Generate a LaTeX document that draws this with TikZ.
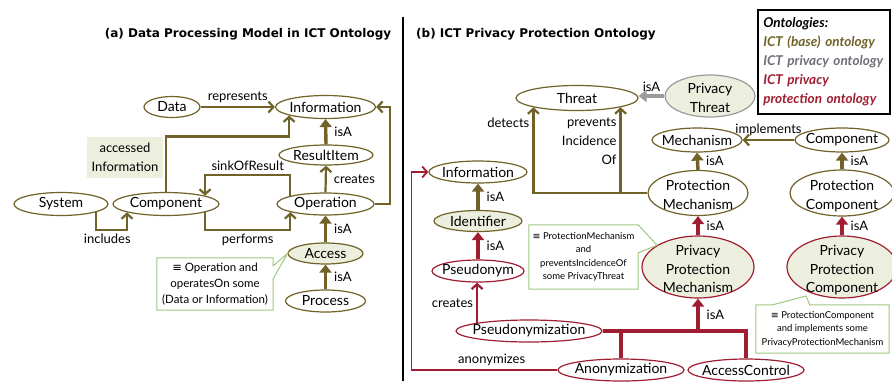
\documentclass[tikz,border=0pt]{standalone}
\usepackage{fontspec}
\setmainfont{Lato}
\newfontfamily\dvsfont{DejaVu Sans}
\usetikzlibrary{shapes.geometric,arrows.meta,calc}
\definecolor{oliv}{RGB}{112,98,40}
\definecolor{ored}{RGB}{160,30,50}
\definecolor{ogray}{RGB}{155,155,155}
\definecolor{lfill}{RGB}{236,239,222}
\definecolor{cgreen}{RGB}{160,200,130}
\definecolor{lgtext}{RGB}{110,110,120}
\newcommand\mynodefont{\fontsize{14}{18.5}\selectfont}
\newcommand\mylabfont{\fontsize{13}{19}\selectfont}
\newcommand\mycallfont{\fontsize{11.5}{16}\selectfont}
\newcommand\mysmallfont{\fontsize{9.5}{13.5}\selectfont}
\newcommand\mylegfont{\fontsize{13.5}{18.8}\selectfont\bfseries\itshape}
\newcommand\mytitlefont{\dvsfont\fontsize{12}{14}\selectfont\bfseries}
\newcommand\ztA[1]{\makebox[0pt]{#1}}
\newcommand\ztB[2]{\makebox[0pt]{\raisebox{-7pt}[0pt][0pt]{\begin{tabular}{@{}c@{}}#1\\#2\end{tabular}}}}
\newcommand\ztC[3]{\makebox[0pt]{\raisebox{-7pt}[0pt][0pt]{\begin{tabular}{@{}c@{}}#1\\#2\\#3\end{tabular}}}}
\newcommand\eqv{{\dvsfont ≡}}
\tikzset{
  ell/.style={ellipse, draw=oliv, line width=1.2pt, fill=white, inner sep=0pt, font=\mynodefont},
  rel/.style={draw=oliv, line width=2.2pt, line join=miter, -{Straight Barb[length=5pt,width=11pt]}},
  isa/.style={draw=oliv, line width=3.4pt, -{Triangle[length=8pt,width=12pt]}},
  redline/.style={draw=ored, line width=3.4pt, line join=miter},
  lab/.style={font=\mylabfont, text=black, inner sep=3pt},
  isalab/.style={lab, right=4pt},
  call/.style={draw=cgreen, line width=1pt, line join=miter},
  calltext/.style={align=center, inner sep=0pt, text=black}
}
\begin{document}
\begin{tikzpicture}[x=1pt,y=-1pt]
\useasboundingbox (0,0) rectangle (892,381);
\fill[white] (0,0) rectangle (892,381);

% titles and divider
\node[font=\mytitlefont] (ta) at (248,34) {(a) Data Processing Model in ICT Ontology};
\node[font=\mytitlefont, anchor=west, inner sep=0pt] (tb) at (416,34) {(b) ICT Privacy Protection Ontology};
\draw[line width=2.4pt] (403,17) -- (403,381);

% ---------- panel (a) ----------
\node[ell, minimum width=56pt, minimum height=21pt] (Data) at (172,107) {\ztA{Data}};
\node[ell, minimum width=100pt, minimum height=23pt] (InfoA) at (325.5,107) {\ztA{Information}};
\node[ell, minimum width=94pt, minimum height=20pt] (RI) at (326,155) {\ztA{ResultItem}};
\node[ell, minimum width=97pt, minimum height=22pt] (Op) at (325.5,204) {\ztA{Operation}};
\node[ell, minimum width=106pt, minimum height=23pt] (Comp) at (166,204) {\ztA{Component}};
\node[ell, minimum width=94pt, minimum height=23pt] (Sys) at (61,204) {\ztA{System}};
\node[ell, fill=lfill, minimum width=75pt, minimum height=21pt] (Acc) at (325.5,253.5) {\ztA{Access}};
\node[ell, minimum width=80pt, minimum height=22pt] (Proc) at (325.5,301) {\ztA{Process}};
\node[fill=lfill, minimum width=76pt, minimum height=41pt, align=center, font=\mylabfont, inner sep=0pt] (AI) at (125,157.5) {accessed\\Information};

\draw[rel] (Data.east) -- node[lab, above]{represents} (InfoA.west);
\draw[isa] (RI.north) -- node[isalab]{isA} (InfoA.south);
\draw[rel] (Op.north) -- node[isalab]{creates} (RI.south);
\draw[isa] (Acc.north) -- node[isalab]{isA} (Op.south);
\draw[isa] (Proc.north) -- node[isalab]{isA} (Acc.south);
\draw[rel] (Comp.north) -- ++(0,-55.5) -| (InfoA.193);
\draw[rel] (Op.167) -- ++(0,-21) -| node[lab, pos=0.25, above]{sinkOfResult} (Comp.12);
\draw[rel] (Sys.347) -- ++(0,18) -| node[lab, pos=0.18, below]{includes} (Comp.192);
\draw[rel] (Comp.348) -- ++(0,18) -| node[lab, pos=0.25, below]{performs} (Op.193);
\draw[rel] (Op.east) -- ++(15,0) |- (InfoA.east);

\node[calltext, font=\mycallfont, minimum width=116pt, minimum height=52pt] (cA) at (215,284) {\eqv{} Operation and\\operatesOn some\\(Data or Information)};
\draw[call] (cA.north west) -- (cA.north east) -- ($(cA.north east)+(0,8)$) -- (Acc.west) -- ($(cA.north east)+(0,21)$) -- (cA.south east) -- (cA.south west) -- cycle;

% ---------- panel (b) ----------
\node[ell, minimum width=122pt, minimum height=25pt] (Thr) at (577,98) {\ztA{Threat}};
\node[ell, draw=ogray, fill=lfill, minimum width=90pt, minimum height=42pt] (PT) at (710,96) {\ztB{Privacy}{Threat}};
\node[ell, minimum width=90pt, minimum height=24pt] (Mech) at (697,140) {\ztA{Mechanism}};
\node[ell, minimum width=94pt, minimum height=24pt] (CompB) at (842,140) {\ztA{Component}};
\node[ell, minimum width=100pt, minimum height=45pt] (PM) at (698,193) {\ztB{Protection}{Mechanism}};
\node[ell, minimum width=104pt, minimum height=46pt] (PC) at (842,193) {\ztB{Protection}{Component}};
\node[ell, draw=ored, fill=lfill, minimum width=112pt, minimum height=62pt] (PPM) at (698,267) {\ztC{Privacy}{Protection}{Mechanism}};
\node[ell, draw=ored, fill=lfill, minimum width=110pt, minimum height=62pt] (PPC) at (842,267) {\ztC{Privacy}{Protection}{Component}};
\node[ell, minimum width=98pt, minimum height=22pt] (InfoB) at (478,172) {\ztA{Information}};
\node[ell, fill=lfill, minimum width=88pt, minimum height=21pt] (Idf) at (478,221) {\ztA{Identifier}};
\node[ell, draw=ored, minimum width=92pt, minimum height=22pt] (Pn) at (478,271) {\ztA{Pseudonym}};
\node[ell, draw=ored, minimum width=146pt, minimum height=22pt] (Pz) at (529,331) {\ztA{Pseudonymization}};
\node[ell, draw=ored, minimum width=126pt, minimum height=22pt] (Anz) at (621,370) {\ztA{Anonymization}};
\node[ell, draw=ored, minimum width=116pt, minimum height=22pt] (AC) at (746,370) {\ztA{AccessControl}};

\draw[isa, draw=ogray] (PT.west) -- node[lab, above]{isA} (PT.west -| Thr.east);
\draw[rel] (CompB.west) -- node[lab, above]{implements} (Mech.east);
\draw[isa] (PM.north) -- node[isalab]{isA} (Mech.south);
\draw[isa] (PC.north) -- node[isalab]{isA} (CompB.south);
\draw[isa, draw=ored] (PPM.north) -- node[isalab]{isA} (PM.south);
\draw[isa, draw=ored] (PPC.north) -- node[isalab]{isA} (PC.south);
\draw[rel] (PM.west) -| node[lab, pos=0.91, left]{detects} (Thr.192);
\draw[rel] (Thr.348 |- PM.west) -- node[lab, pos=0.6, left, align=right]{prevents\\Incidence\\Of} (Thr.348);
\draw[isa] (Idf.north) -- node[isalab]{isA} (InfoB.south);
\draw[isa, draw=ored] (Pn.north) -- node[isalab]{isA} (Idf.south);
\draw[rel, draw=ored] (Pz.171) -- node[lab, left]{creates} (Pz.171 |- Pn.south);
\draw[redline] (Pz.east) -| (AC.north);
\draw[redline] (Anz.north) -- (Anz.north |- Pz.east);
\draw[isa, draw=ored] (PPM.south |- Pz.east) -- node[isalab]{isA} (PPM.south);
\draw[rel, draw=ored, line width=1.8pt] (Anz.west) -- node[lab, pos=0.45, above]{anonymizes} ++(-146,0) |- (InfoB.west);

\node[calltext, font=\mysmallfont, minimum width=109pt, minimum height=64pt] (cB) at (583.5,257) {\eqv{} ProtectionMechanism\\and\\preventsIncidenceOf\\some PrivacyThreat};
\draw[call] (cB.north west) -- (cB.north east) -- (PPM.152) -- ($(cB.north east)+(0,28)$) -- (cB.south east) -- (cB.south west) -- cycle;

\node[calltext, font=\mysmallfont, minimum width=133pt, minimum height=48pt] (cC) at (822.5,329) {\eqv{} ProtectionComponent\\and implements some\\PrivacyProtectionMechanism};
\draw[call] (cC.north west) -- ($(cC.north west)+(17,0)$) -- ($(PPC.center)+(-36,29)$) -- ($(cC.north west)+(54,0)$) -- (cC.north east) -- (cC.south east) -- (cC.south west) -- cycle;

% legend
\node[draw=black, line width=1.5pt, anchor=north west, text width=121pt, minimum height=104pt, inner xsep=5.5pt, align=left, font=\mylegfont] (leg) at (757,9)
  {\textcolor{black}{Ontologies:}\\\textcolor{oliv}{ICT (base) ontology}\\\textcolor{lgtext}{ICT privacy ontology}\\\textcolor{ored}{ICT privacy}\\\textcolor{ored}{protection ontology}};
\end{tikzpicture}
\end{document}
